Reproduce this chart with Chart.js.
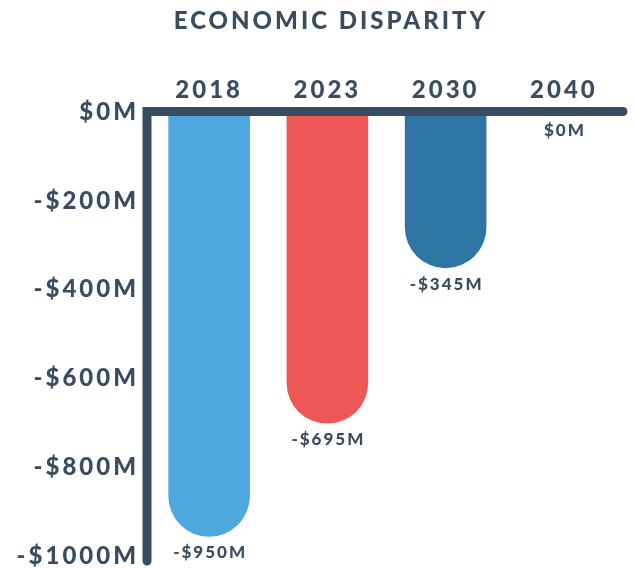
<!DOCTYPE html>
<html>
<head>
<meta charset="utf-8">
<title>Economic Disparity</title>
<script src="https://cdn.jsdelivr.net/npm/chart.js@4.4.1/dist/chart.umd.min.js"></script>
<style>
  html, body { margin: 0; padding: 0; background: #fff; }
  #wrap { width: 635px; height: 568px; }
</style>
</head>
<body>
<div id="wrap"><canvas id="disparityChart"></canvas></div>
<script>
const years = ['2018', '2023', '2030', '2040'];
const disparity = [-950, -695, -345, 0]; // $M
const tickValues = [0, -200, -400, -600, -800, -1000];
const tickLabels = ['$0M', '-$200M', '-$400M', '-$600M', '-$800M', '-$1000M'];
const barColors = ['#4fa8dd', '#ef5656', '#2e75a3', '#2e75a3'];

const SLATE = '#3a4c60';
const FONT = 'Lato, "Open Sans", sans-serif';

function money(v) {
    return (v < 0 ? '-$' : '$') + Math.abs(v) + 'M';
}

// wide tracking for all chart text
const spacing = {
    id: 'spacing',
    beforeDraw(chart) {
        chart.ctx.letterSpacing = '3px';
    }
};

// title sits a little right of the canvas centre
const titleNudge = {
    id: 'titleNudge',
    afterLayout(chart) {
        if (chart.titleBlock) chart.titleBlock.left = 39;
    }
};

// thick L-shaped axis over the top of the bars
const axisFrame = {
    id: 'axisFrame',
    afterDatasetsDraw(chart) {
        const { ctx, chartArea: a } = chart;
        ctx.save();
        ctx.strokeStyle = SLATE;
        ctx.lineWidth = 9;
        ctx.lineCap = 'round';
        ctx.lineJoin = 'miter';
        ctx.beginPath();
        ctx.moveTo(a.left - 3, a.bottom + 2);
        ctx.lineTo(a.left - 3, a.top - 3.5);
        ctx.lineTo(a.right, a.top - 3.5);
        ctx.stroke();
        ctx.restore();
    }
};

// value under the end of each bar
const valueTags = {
    id: 'valueTags',
    afterDatasetsDraw(chart) {
        const ctx = chart.ctx;
        ctx.save();
        ctx.font = '900 17px ' + FONT;
        ctx.letterSpacing = '2px';
        ctx.fillStyle = SLATE;
        ctx.textAlign = 'center';
        ctx.textBaseline = 'middle';
        chart.getDatasetMeta(0).data.forEach((bar, i) => {
            ctx.fillText(money(disparity[i]), bar.x + 1, bar.y + 16);
        });
        ctx.restore();
    }
};

const bigFont = { family: FONT, size: 24, weight: '900' };

new Chart(document.getElementById('disparityChart'), {
    type: 'bar',
    data: {
        labels: years,
        datasets: [{
            data: disparity,
            backgroundColor: barColors,
            borderRadius: 100,
            borderSkipped: 'start',
            barPercentage: 0.69,
            categoryPercentage: 1
        }]
    },
    options: {
        responsive: true,
        maintainAspectRatio: false,
        animation: false,
        layout: { padding: { left: 0, right: 12, top: 0, bottom: 9 } },
        plugins: {
            legend: { display: false },
            tooltip: { enabled: false },
            title: {
                display: true,
                text: 'ECONOMIC DISPARITY',
                color: SLATE,
                font: { family: FONT, size: 24, weight: '900' },
                padding: { top: 7, bottom: 0 }
            }
        },
        scales: {
            x: {
                position: 'top',
                grid: { display: false, drawTicks: false },
                border: { display: false },
                ticks: { color: SLATE, font: bigFont, padding: 10 },
                afterFit(s) { s.height = 79.2; }
            },
            y: {
                min: -1000,
                max: 0,
                grid: { display: false, drawTicks: false },
                border: { display: false },
                afterBuildTicks(s) {
                    s.ticks = tickValues.map(v => ({ value: v }));
                },
                ticks: {
                    color: SLATE,
                    font: bigFont,
                    padding: 11,
                    labelOffset: -3,
                    callback: v => tickLabels[tickValues.indexOf(v)]
                },
                afterFit(s) {
                    s.width = 150;
                    s.paddingTop = 0;
                    s.paddingBottom = 0;
                }
            }
        }
    },
    plugins: [spacing, titleNudge, axisFrame, valueTags]
});
</script>
</body>
</html>
